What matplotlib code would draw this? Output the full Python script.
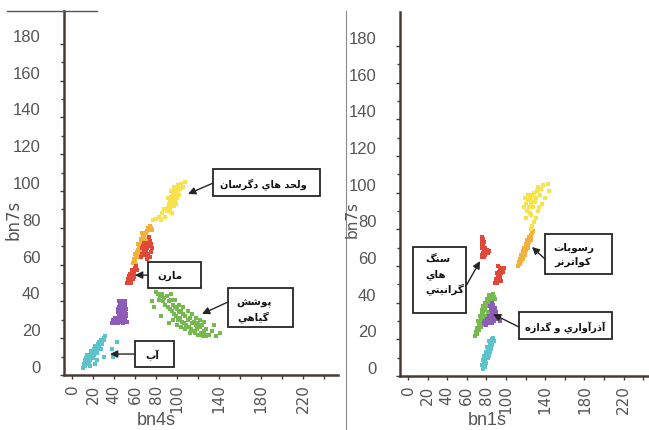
import matplotlib
matplotlib.use("Agg")
import matplotlib.pyplot as plt
from matplotlib.patches import Rectangle
from matplotlib.font_manager import FontProperties
from matplotlib.transforms import ScaledTranslation

# ---------------- data ----------------
# Left panel: bn4s (x) vs bn7s (y)
L_water = [(10,4),(11,6),(12,5),(13,7),(13,9),(14,8),(15,6),(15,10),(16,9),(17,11),(17,8),(18,12),(19,10),(19,13),
           (20,12),(21,14),(21,11),(22,15),(23,13),(24,16),(24,14),(25,17),(26,15),(27,18),(28,19),(29,17),(30,20),
           (31,21),(12,8),(14,11),(16,7),(18,13),(20,9),(22,16),(24,12),(26,18),(28,14),(30,19),(24,8),(30,10),
           (38,14),(39,10),(43,18),(17,5),(22,6)]
L_purple = [(45,40),(47,40),(49,39),(46,38),(48,38),(50,38),(45,37),(47,36),(49,37),(51,36),(46,35),(48,35),(50,34),
            (44,34),(47,33),(49,33),(51,32),(45,32),(43,31),(41,31),(39,30),(40,29),(42,29),(44,30),(46,30),(48,31),
            (50,30),(52,29),(38,28),(41,28),(44,28),(47,29),(49,28),(51,33),(46,33),(48,36),(50,40),(44,36)]
L_red = [(52,50),(53,52),(54,51),(55,53),(56,52),(57,54),(55,55),(58,56),(59,55),(57,57),(60,58),(61,59),(59,53),
         (56,50),(62,57),(54,54),(58,52),(66,64),(67,66),(68,65),(69,68),(70,67),(71,69),(68,70),(70,71),(72,72),
         (73,70),(74,73),(72,66),(74,64),(75,67),(76,69),(71,63),(73,75),(69,72),(75,71),(67,69),(70,65)]
L_orange = [(58,61),(59,63),(60,62),(61,65),(62,64),(62,67),(63,68),(64,66),(64,70),(65,71),(66,72),(66,74),(67,73),
            (68,76),(69,75),(70,77),(71,78),(72,80),(73,79),(74,81),(75,80),(60,66),(63,71),(65,68),(67,77),(70,74),
            (76,79),(61,60),(68,72)]
L_yellow = [(77,84),(80,85),(83,86),(86,88),(85,84),(89,86),(88,90),(90,89),(91,91),(92,93),(93,90),(94,92),(95,94),
            (96,96),(94,97),(97,98),(98,95),(99,97),(100,99),(101,100),(98,101),(96,99),(93,95),(92,89),(95,88),(97,92),
            (99,93),(100,96),(102,98),(103,101),(101,103),(104,104),(106,102),(108,105),(91,96),(94,100),(97,102),(100,102)]
L_green = [(80,45),(82,44),(84,43),(86,44),(83,41),(88,42),(90,43),(87,40),(89,38),(92,40),(94,41),(91,37),(93,36),
           (96,38),(95,35),(98,37),(100,36),(97,33),(99,32),(102,34),(104,35),(101,30),(103,31),(106,33),(108,32),
           (105,29),(107,28),(110,30),(112,31),(109,27),(111,26),(114,28),(116,29),(113,25),(115,24),(118,27),(120,28),
           (117,23),(119,25),(122,26),(124,27),(121,22),(123,23),(126,24),(128,25),(125,21),(127,22),(130,22),(133,24),
           (137,21),(141,23),(76,40),(78,37),(85,32),(92,28),(96,30),(100,27),(104,26),(108,25),(112,23),(120,22),
           (128,21),(135,27),(94,44),(98,41),(102,38),(106,37),(110,35),(114,33),(118,31),(122,30),(126,29)]

# Right panel: bn1s (x) vs bn7s (y)
R_cyan = [(77,4),(76,6),(78,7),(77,9),(79,8),(80,10),(78,11),(81,12),(80,13),(82,14),(83,15),(81,16),(84,17),(85,18),
          (83,19),(86,20),(87,21),(85,15),(82,10),(79,5),(84,13),(86,17),(88,19),(80,7),(83,11)]
R_green = [(68,22),(69,24),(70,23),(70,26),(71,25),(72,27),(72,29),(73,28),(74,30),(74,32),(75,31),(76,33),(76,35),
           (77,34),(78,36),(79,37),(80,38),(81,40),(82,39),(83,41),(84,42),(85,43),(86,44),(87,45),(88,43),(86,40),
           (84,38),(82,35),(80,33),(78,31),(76,29),(74,27),(72,25),(71,30),(73,33),(75,36),(77,38),(79,40),(81,42),
           (83,44),(85,41),(87,39),(89,42),(78,28),(80,30),(82,32)]
R_purple = [(84,38),(86,40),(85,36),(87,37),(88,35),(86,34),(89,33),(87,32),(90,31),(88,30),(91,33),(92,32),(93,31),
            (94,30),(90,35),(83,33),(81,31),(79,30),(78,29),(80,28),(82,29),(84,30),(86,29),(85,32),(89,37),(87,39)]
R_red1 = [(76,76),(77,75),(75,74),(78,73),(76,72),(77,71),(79,70),(75,70),(78,69),(80,68),(82,67),(81,69),(83,68),
          (77,67),(76,66),(79,66),(75,65),(78,65)]
R_red2 = [(92,60),(94,59),(96,58),(93,57),(95,56),(91,56),(92,54),(94,54),(90,53),(93,52),(95,52),(89,51),(91,51),
          (98,59),(97,57)]
R_orange = [(112,60),(113,62),(114,61),(115,63),(116,65),(115,66),(117,64),(118,67),(119,68),(118,70),(120,69),
            (121,71),(122,72),(121,74),(123,73),(124,75),(125,76),(126,77),(127,78),(128,79),(114,64),(117,68),
            (120,72),(123,76),(119,66),(122,70),(125,74)]
R_yellow = [(118,92),(120,94),(122,96),(121,90),(123,92),(124,98),(125,94),(126,96),(127,99),(124,89),(128,92),
            (126,88),(130,95),(131,97),(129,100),(132,101),(133,103),(135,99),(136,102),(138,104),(143,105),(144,101),
            (140,97),(137,94),(134,92),(131,86),(129,84),(127,82),(125,80),(133,90),(120,86),(122,99),(119,97)]

y_ticks = [0, 20, 40, 60, 80, 100, 120, 140, 160, 180]
x_ticks = [0, 20, 40, 60, 80, 100, 120, 140, 160, 180, 200, 220, 240]
x_tick_labels = ["0", "20", "40", "60", "80", "100", "", "140", "", "180", "", "220", ""]

left_xlabel, right_xlabel, ylabel = "bn4s", "bn1s", "bn7s"

# annotation texts (Persian)
txt_dagarsan = "ولحد هاي دگرسان"
txt_marn = "مارن"
txt_pooshesh = ["پوشش", "گياهي"]
txt_ab = "آب"
txt_granit = ["سنگ", "هاي", "گرانيتي"]
txt_rosoobat = ["رسوبات", "كواترنر"]
txt_azar = "آذرآواري و گدازه"

# ---------------- helpers ----------------
FORMS = {
    'ا': ('\uFE8D', '\uFE8E', None, None), 'آ': ('\uFE81', '\uFE82', None, None),
    'ب': ('\uFE8F', '\uFE90', '\uFE91', '\uFE92'), 'پ': ('\uFB56', '\uFB57', '\uFB58', '\uFB59'),
    'ت': ('\uFE95', '\uFE96', '\uFE97', '\uFE98'), 'ح': ('\uFEA1', '\uFEA2', '\uFEA3', '\uFEA4'),
    'د': ('\uFEA9', '\uFEAA', None, None), 'ذ': ('\uFEAB', '\uFEAC', None, None),
    'ر': ('\uFEAD', '\uFEAE', None, None), 'ز': ('\uFEAF', '\uFEB0', None, None),
    'س': ('\uFEB1', '\uFEB2', '\uFEB3', '\uFEB4'), 'ش': ('\uFEB5', '\uFEB6', '\uFEB7', '\uFEB8'),
    'ك': ('\uFED9', '\uFEDA', '\uFEDB', '\uFEDC'), 'گ': ('\uFB92', '\uFB93', '\uFB94', '\uFB95'),
    'ل': ('\uFEDD', '\uFEDE', '\uFEDF', '\uFEE0'), 'م': ('\uFEE1', '\uFEE2', '\uFEE3', '\uFEE4'),
    'ن': ('\uFEE5', '\uFEE6', '\uFEE7', '\uFEE8'), 'ه': ('\uFEE9', '\uFEEA', '\uFEEB', '\uFEEC'),
    'و': ('\uFEED', '\uFEEE', None, None), 'ي': ('\uFEF1', '\uFEF2', '\uFEF3', '\uFEF4'),
}


def shape(s):
    out = []
    for i, c in enumerate(s):
        if c not in FORMS:
            out.append(c)
            continue
        prev = s[i - 1] if i > 0 else ''
        nxt = s[i + 1] if i + 1 < len(s) else ''
        jp = prev in FORMS and FORMS[prev][2] is not None
        jn = FORMS[c][2] is not None and nxt in FORMS
        iso, fin, ini, med = FORMS[c]
        out.append(med if (jp and jn) else fin if jp else ini if jn else iso)
    return ''.join(reversed(out))


YL_PROPS = FontProperties(family="Liberation Sans", size=12)
XL_PROPS = FontProperties(family="Liberation Sans", size=13)
TXT = "#555555"
AXC = "#4a3a36"

COL = dict(cyan="#5cc3cb", purple="#8d5cb8", red="#e0493a", orange="#f3b03c",
           yellow="#f7e24c", green="#76b94e")

fig = plt.figure(figsize=(6.49, 4.31), dpi=100)
W, H = 649, 431


def make_axes(left, right, bottom, top, x0px, xscale, y0px, yscale):
    ax = fig.add_axes([left / W, (H - bottom) / H, (right - left) / W, (bottom - top) / H])
    ax.set_xlim((left - x0px) / xscale, (right - x0px) / xscale)
    ax.set_ylim((bottom - y0px) / yscale, (bottom - top) / yscale + (bottom - y0px) / yscale)
    for s in ("top", "right"):
        ax.spines[s].set_visible(False)
    for s in ("left", "bottom"):
        ax.spines[s].set_color(AXC)
        ax.spines[s].set_linewidth(1.8)
    ax.set_yticks(y_ticks)
    ax.set_yticks([v + 10 for v in y_ticks[:-1]], minor=True)
    ax.set_yticklabels([str(v) for v in y_ticks], color=TXT)
    for lab in ax.get_yticklabels():
        lab.set_fontproperties(YL_PROPS)
    ax.set_xticks(x_ticks)
    ax.set_xticklabels(x_tick_labels, rotation=90, fontfamily="DejaVu Sans", fontsize=11, color=TXT)
    ax.tick_params(axis="both", which="both", direction="out", color=AXC, width=1)
    ax.tick_params(axis="y", which="major", length=3, pad=14)
    ax.tick_params(axis="y", which="minor", length=2)
    ax.tick_params(axis="x", which="major", length=3, pad=3)
    off = ScaledTranslation(0, 0.09, fig.dpi_scale_trans)
    for lab in ax.get_yticklabels():
        lab.set_transform(lab.get_transform() + off)
    ax.set_facecolor("none")
    return ax


ax1 = make_axes(64, 338, 376, 12, 72, 1.05, 376, 1.84)
ax2 = make_axes(400, 649, 377, 13, 408, 0.98, 377, 1.833)


def scat(ax, pts, color):
    xs = [p[0] for p in pts]
    ys = [p[1] for p in pts]
    ax.scatter(xs, ys, s=5, marker="s", color=color, linewidths=0, zorder=3)


scat(ax1, L_water, COL["cyan"])
scat(ax1, L_purple, COL["purple"])
scat(ax1, L_green, COL["green"])
scat(ax1, L_orange, COL["orange"])
scat(ax1, L_red, COL["red"])
scat(ax1, L_yellow, COL["yellow"])

scat(ax2, R_cyan, COL["cyan"])
scat(ax2, R_green, COL["green"])
scat(ax2, R_purple, COL["purple"])
scat(ax2, R_red1, COL["red"])
scat(ax2, R_red2, COL["red"])
scat(ax2, R_orange, COL["orange"])
scat(ax2, R_yellow, COL["yellow"])

BOXC = "#262626"
AFS = 7.5


def box(ax, x0, x1, y0, y1):
    ax.add_patch(Rectangle((x0, y0), x1 - x0, y1 - y0, fill=False, edgecolor=BOXC,
                           linewidth=1.3, zorder=5, clip_on=False))


def arrow(ax, frm, to):
    ax.annotate("", xy=to, xytext=frm,
                arrowprops=dict(arrowstyle="-|>", color=BOXC, lw=1.0, mutation_scale=11,
                                shrinkA=0, shrinkB=0), zorder=6)


def ptext(ax, x, y, s, ha="center", fs=AFS):
    ax.text(x, y, shape(s), ha=ha, va="center", fontsize=fs, fontweight="bold",
            fontfamily="DejaVu Sans", color="#111111", zorder=6)


# Left annotations
box(ax1, 134.3, 236.2, 97.3, 112.0)
ptext(ax1, 182, 104.3, txt_dagarsan, fs=7)
arrow(ax1, (134.3, 104.3), (110.5, 98.4))

box(ax1, 72.4, 122.9, 47.3, 61.4)
ptext(ax1, 93.3, 54.3, txt_marn)
arrow(ax1, (72.4, 54.3), (60, 54.3))

box(ax1, 148.6, 210.5, 26.1, 47.3)
ptext(ax1, 173, 39.7, txt_pooshesh[0])
ptext(ax1, 173, 32.1, txt_pooshesh[1])
arrow(ax1, (148.6, 39.7), (123.8, 33.2))

box(ax1, 60, 97.1, 4.3, 18.5)
ptext(ax1, 76.2, 11.4, txt_ab)
arrow(ax1, (60, 11.4), (36.2, 11.4))

# Right annotations
box(ax2, 5.1, 59.2, 34.4, 70.4)
for yy, s in zip([63.8, 55.8, 48.0], txt_granit):
    ptext(ax2, 17.3, yy, s, ha="left")
arrow(ax2, (59.2, 49.1), (73.5, 62.7))

box(ax2, 139.8, 208.2, 55.6, 77.5)
ptext(ax2, 169, 70.4, txt_rosoobat[0])
ptext(ax2, 168, 62.7, txt_rosoobat[1])
arrow(ax2, (139.8, 63.8), (126.5, 70.4))

box(ax2, 113.3, 208.2, 20.2, 34.9)
ptext(ax2, 160, 26.7, txt_azar, fs=7)
arrow(ax2, (113.3, 26.7), (86.7, 33.8))

# axis titles
fig.text(13 / W, 1 - 220 / H, ylabel, rotation=90, ha="center", va="center",
         fontsize=12, color=TXT, fontfamily="DejaVu Sans")
fig.text(352 / W, 1 - 220 / H, ylabel, rotation=90, ha="center", va="center",
         fontsize=11, color=TXT, fontfamily="DejaVu Sans")
fig.text(156 / W, 2 / H, left_xlabel, ha="center", va="bottom", color=TXT, fontproperties=XL_PROPS)
fig.text(487 / W, 2 / H, right_xlabel, ha="center", va="bottom", color=TXT, fontproperties=XL_PROPS)

# frame decorations
fig.add_artist(plt.Line2D([7 / W, 97 / W], [1 - 12 / H, 1 - 12 / H], color="#555555", lw=1.0))
fig.add_artist(plt.Line2D([346 / W, 346 / W], [1 - 12 / H, 0], color="#8a8a8a", lw=0.8))

fig.savefig("out.png", dpi=100, facecolor="white")
